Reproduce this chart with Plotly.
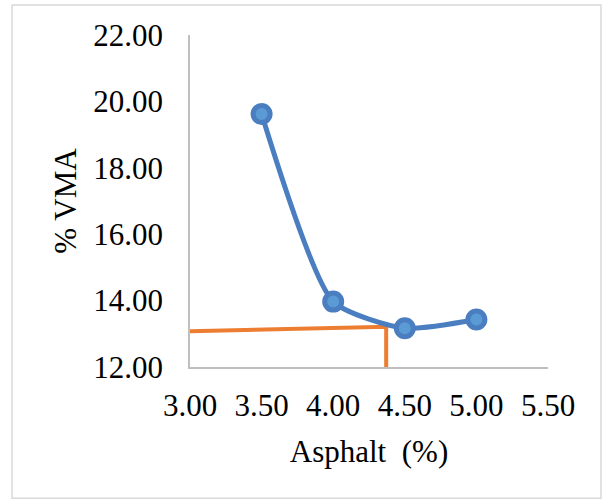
import plotly.graph_objects as go

# Data
asphalt = [3.5, 4.0, 4.5, 5.0]
vma = [19.62, 13.97, 13.17, 13.43]

guide_x = [3.0, 4.37, 4.37]
guide_y = [13.08, 13.21, 11.94]

x_ticks = [3.0, 3.5, 4.0, 4.5, 5.0, 5.5]
y_ticks = [12, 14, 16, 18, 20, 22]

FONT = "Liberation Serif, Times New Roman, serif"

fig = go.Figure()

fig.add_trace(go.Scatter(
    x=guide_x, y=guide_y, mode="lines",
    line=dict(color="#ED7D31", width=4),
    showlegend=False, hoverinfo="skip",
))

fig.add_trace(go.Scatter(
    x=asphalt, y=vma, mode="lines+markers",
    line=dict(color="#4A7EC0", width=5, shape="spline", smoothing=0.6),
    marker=dict(size=17, color="#5B9BD5", line=dict(color="#4A7EC0", width=5)),
    showlegend=False,
))

fig.update_layout(
    width=602, height=500,
    margin=dict(l=190, r=54, t=35, b=133),
    paper_bgcolor="white", plot_bgcolor="white",
    font=dict(family=FONT, size=31, color="black"),
    xaxis=dict(
        range=[3.0, 5.5], tickvals=x_ticks,
        ticktext=[f"{v:.2f}" for v in x_ticks],
        showgrid=False, zeroline=False,
        showline=True, linecolor="#BFBFBF", linewidth=1.5,
        ticks="", ticklabelstandoff=10,
        title=dict(text="Asphalt  (%)", standoff=18, font=dict(size=31)),
    ),
    yaxis=dict(
        range=[12, 22], tickvals=y_ticks,
        ticktext=[f"{v:.2f}" for v in y_ticks],
        showgrid=False, zeroline=False,
        showline=True, linecolor="#BFBFBF", linewidth=1.5,
        ticks="", ticklabelstandoff=19,
        title=dict(text="% VMA", standoff=7, font=dict(size=31)),
    ),
    shapes=[dict(
        type="rect", xref="paper", yref="paper",
        x0=-0.497, x1=1.148, y0=-0.395, y1=1.09,
        line=dict(color="#D9D9D9", width=1.5), fillcolor="rgba(0,0,0,0)",
        layer="below",
    )],
)

fig.write_html("out.html")
